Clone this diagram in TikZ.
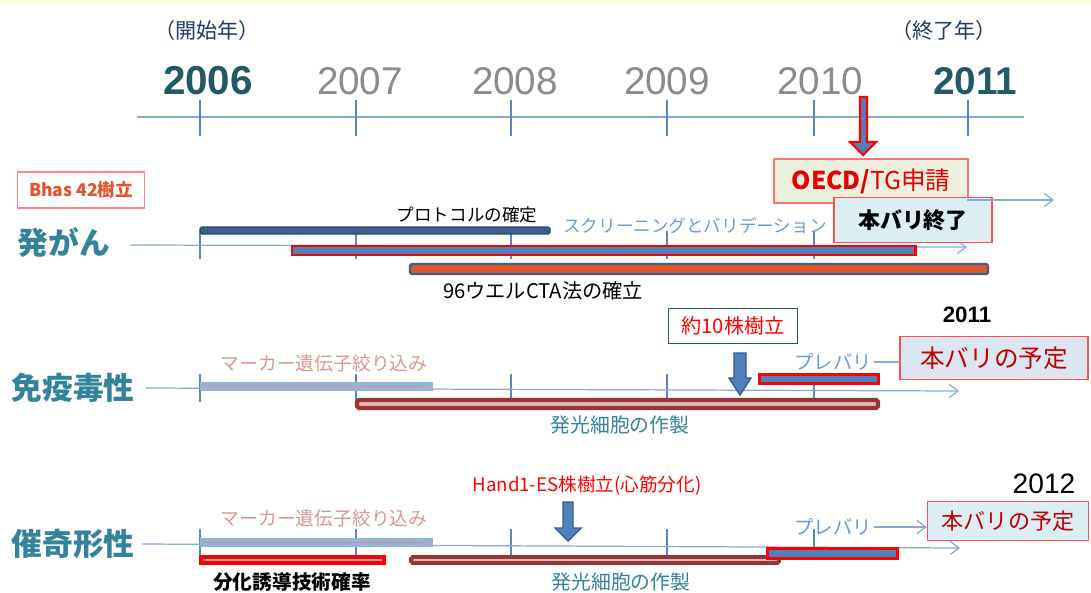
\documentclass[tikz,border=0pt]{standalone}
\usepackage{fontspec}
\usepackage{tikz}
\usetikzlibrary{arrows.meta,positioning}
\setmainfont{Liberation Sans}
\newfontfamily\jp{Noto Sans CJK JP}
\definecolor{AxisBlue}{HTML}{86A9D8}
\definecolor{TickBlue}{HTML}{5C85C0}
\definecolor{RowTeal}{HTML}{31849B}
\definecolor{YearTeal}{HTML}{215968}
\definecolor{YearGray}{HTML}{8F8A86}
\definecolor{Navy}{HTML}{1F3864}
\definecolor{BarBlue}{HTML}{4F81BD}
\definecolor{BarDark}{HTML}{3A5F8F}
\definecolor{BarEdge}{HTML}{385D8A}
\definecolor{BarOrange}{HTML}{E0582A}
\definecolor{MarkBlue}{HTML}{95B3D7}
\definecolor{MarkPink}{HTML}{D99694}
\definecolor{CellRed}{HTML}{953735}
\definecolor{CellPink}{HTML}{E6B9B8}
\definecolor{BoxRed}{HTML}{FF5050}
\definecolor{PlanRed}{HTML}{C00000}
\definecolor{PlanBlue}{HTML}{DCE6F2}
\definecolor{EndCyan}{HTML}{DAEEF3}
\definecolor{OecdBeige}{HTML}{EEF0DE}
\definecolor{TopBand}{HTML}{FFFFE0}
\definecolor{ScreenBlue}{HTML}{6A9BD8}
\definecolor{NoteRed}{HTML}{E8502A}

\begin{document}
\begin{tikzpicture}[x=0.02cm,y=-0.02cm,
    jp/.style={font={\jp\fontsize{#1}{#1}\selectfont},inner sep=1pt},
    jpb/.style={font={\jp\bfseries\fontsize{#1}{#1}\selectfont},inner sep=1pt},
    yearbold/.style={font={\bfseries\fontsize{#1}{#1}\selectfont},text=YearTeal},
    yeargray/.style={font={\fontsize{#1}{#1}\selectfont},text=YearGray},
    axisline/.style={AxisBlue,line width=0.7pt},
    axisarrow/.style={AxisBlue,line width=0.7pt,-{Straight Barb[length=5pt,width=7.5pt]}},
    tickline/.style={TickBlue,line width=0.6pt},
    darkbar/.style={fill=BarDark,draw=BarEdge!80!black,line width=0.8pt,rounded corners=1pt},
    redbar/.style={fill=BarBlue,draw=red,line width=1.7pt},
    orangebar/.style={fill=BarOrange,draw=BarDark,line width=1.4pt,rounded corners=1pt},
    markbar/.style={fill=MarkBlue,draw=MarkBlue,line width=0.6pt},
    cellbar/.style={fill=CellPink,draw=CellRed,line width=2.4pt,rounded corners=1pt},
    blockarrow/.style={fill=BarBlue,draw=BarEdge,line width=0.8pt,line join=miter},
    planbox/.style={draw=BoxRed,line width=0.8pt,inner sep=2pt}]
  \fill[white] (0,0) rectangle (1091,592);
  \fill[TopBand] (0,0) rectangle (1091,4);
  \useasboundingbox (0,0) rectangle (1091,592);

  % year scale
  \node[jp=12pt,text=Navy] (startyr) at (207,30) {（開始年）};
  \node[jp=12pt,text=Navy] (endyr) at (944,30) {（終了年）};
  \node[yearbold=23pt] (y2006) at (208,81) {2006};
  \node[yeargray=22pt] (y2007) at (360,81) {2007};
  \node[yeargray=22pt] (y2008) at (515,81) {2008};
  \node[yeargray=22pt] (y2009) at (667,81) {2009};
  \node[yeargray=22pt] (y2010) at (820,81) {2010};
  \node[yearbold=22pt] (y2011) at (975,81) {2011};
  \coordinate (scaleA) at (137,117);
  \coordinate (scaleB) at (1024,117);
  \draw[axisline] (scaleA) -- (scaleB);
  \foreach \x in {200,356,511,667,814,968}
    \draw[tickline] (\x,100) -- (\x,136);

  % carcinogenicity row
  \node[jpb=17.5pt,text=RowTeal] (hatsugan) at (64,243) {発がん};
  \node[jpb=10pt,text=NoteRed,draw=BoxRed!70,line width=0.8pt,minimum width=2.54cm,minimum height=0.72cm] (bhas) at (81,190) {Bhas 42樹立};
  \coordinate (rowAs) at (130,245);
  \coordinate (rowAe) at (967,247);
  \foreach \x in {200,356,511,667,814}
    \draw[tickline] (\x,231) -- (\x,259);
  \draw[axisarrow] (rowAs) -- (rowAe);
  \draw[darkbar] (200,227) rectangle (550,234);
  \draw[redbar] (292,246) rectangle (915,255);
  \draw[orangebar] (410,264) rectangle (988,274);
  \node[jp=10pt] (protocol) at (467,215) {プロトコルの確定};
  \node[jp=10pt,text=ScreenBlue] (screening) at (695,226) {スクリーニングとバリデーション};
  \node[jp=11.5pt] (cta) at (543,291) {96ウエルCTA法の確立};
  \node[jp=14pt,text=red!90!black,fill=OecdBeige,draw=BoxRed!80,line width=0.8pt,minimum width=3.88cm,minimum height=0.88cm] (oecd) at (871,181) {{\bfseries OECD/}TG申請};
  \node[jpb=12.5pt,fill=EndCyan,planbox,minimum width=3.16cm,minimum height=0.90cm] (honend) at (913,220) {本バリ終了};
  \coordinate (rowAu) at (967,200);
  \coordinate (rowAv) at (1054,200);
  \draw[axisarrow] (rowAu) -- (rowAv);
  \draw[blockarrow,draw=red,line width=1.2pt] (860,97) -- (867,97) -- (867,142) -- (876,142) -- (863,155) -- (850,142) -- (860,142) -- cycle;

  % immunotoxicity row
  \node[jpb=17.5pt,text=RowTeal] (meneki) at (73,388) {免疫毒性};
  \coordinate (rowBs) at (146,388);
  \coordinate (rowBe) at (959,391);
  \foreach \x in {200,356,511,667,814}
    \draw[tickline] (\x,374) -- (\x,402);
  \draw[axisarrow] (rowBs) -- (rowBe);
  \draw[markbar] (201,383) rectangle (432,390);
  \draw[MarkPink,line width=0.8pt] (204,386.5) -- (429,386.5);
  \draw[cellbar] (357,400) rectangle (878,408);
  \node[jp=10.7pt,text=MarkPink] (markerB) at (324,363) {マーカー遺伝子絞り込み};
  \node[jp=11.3pt,text=RowTeal] (cellB) at (620,425) {発光細胞の作製};
  \node[jp=11.5pt,text=red,draw=RowTeal!70!black,line width=0.7pt,minimum width=2.58cm,minimum height=0.70cm] (strainB) at (733,326) {約10株樹立};
  \draw[blockarrow] (734,353) -- (746,353) -- (746,378) -- (751,378) -- (740,395) -- (729,378) -- (734,378) -- cycle;
  \draw[redbar] (759,374) rectangle (878,383);
  \node[jp=11pt,text=ScreenBlue] (prebariB) at (833,362) {プレバリ};
  \node[jp=14pt,text=PlanRed,fill=PlanBlue,planbox,minimum width=3.76cm,minimum height=0.86cm] (planB) at (994,358) {本バリの予定};
  \draw[axisline] (prebariB.east) -- (planB.west |- prebariB.east);
  \node[font={\bfseries\fontsize{12.7pt}{12.7pt}\selectfont}] (yrB) at (967,315) {2011};

  % teratogenicity row
  \node[jpb=17.5pt,text=RowTeal] (saiki) at (73,544) {催奇形性};
  \coordinate (rowCs) at (142,544);
  \coordinate (rowCe) at (960,548);
  \foreach \x in {200,356,511,667,814}
    \draw[tickline] (\x,529) -- (\x,557);
  \draw[axisarrow] (rowCs) -- (rowCe);
  \draw[markbar] (201,539) rectangle (432,546);
  \draw[MarkPink!80!gray,line width=0.8pt] (204,542.5) -- (429,542.5);
  \draw[redbar,fill=MarkBlue!80!gray,line width=2pt] (201,557) rectangle (384,563);
  \draw[cellbar,line width=2.2pt] (411,557) rectangle (779,563);
  \node[jp=10.7pt,text=MarkPink] (markerC) at (324,518) {マーカー遺伝子絞り込み};
  \node[jpb=11.2pt] (bunka) at (292,582) {分化誘導技術確率};
  \node[jp=11.3pt,text=RowTeal] (cellC) at (621,582) {発光細胞の作製};
  \node[jp=10.6pt,text=red] (hand) at (587,485) {Hand1-ES株樹立(心筋分化)};
  \draw[blockarrow] (563,502) -- (573,502) -- (573,528) -- (581,528) -- (568,541) -- (555,528) -- (563,528) -- cycle;
  \draw[redbar] (767,548) rectangle (897,558);
  \node[jp=11pt,text=ScreenBlue] (prebariC) at (833,527) {プレバリ};
  \node[jp=12.6pt,text=PlanRed,fill=EndCyan,planbox,minimum width=3.22cm,minimum height=0.78cm] (planC) at (1008,521) {本バリの予定};
  \draw[axisarrow] (prebariC.east) -- (planC.west |- prebariC.east);
  \node[font={\fontsize{16pt}{16pt}\selectfont}] (yrC) at (1044,484) {2012};
\end{tikzpicture}
\end{document}
